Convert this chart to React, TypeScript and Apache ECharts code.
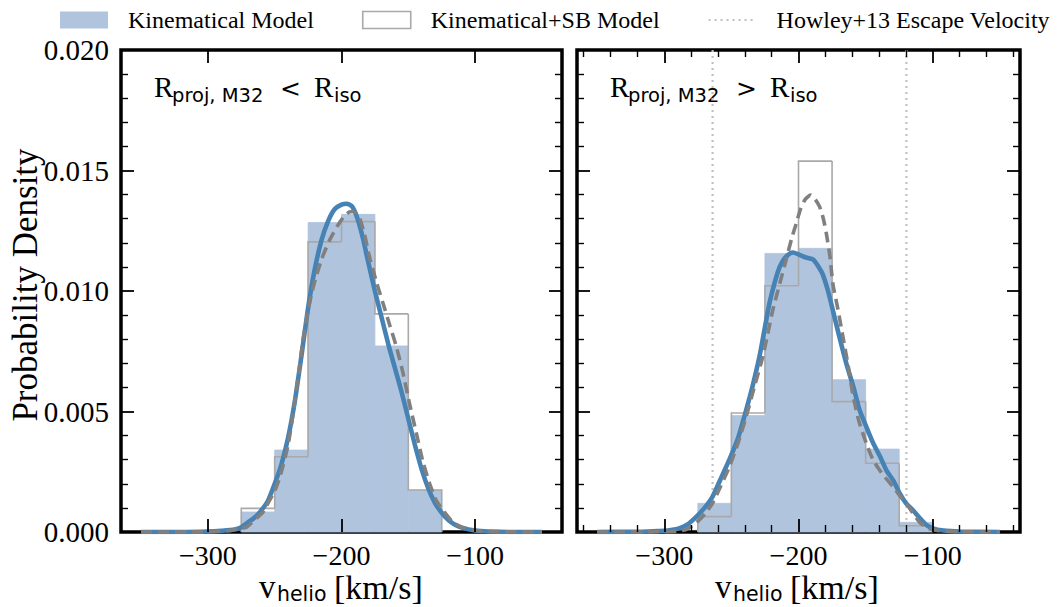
import React, { useEffect, useRef } from "react";
import * as echarts from "echarts";

// ---------- DATA ----------
const xTicks = [-300, -200, -100];
const yTicks = [0, 0.005, 0.01, 0.015, 0.02];

// histogram bin edges and heights (probability density)
const edgesLeft = [-275, -250, -225, -200, -175, -150, -125];
const kinHistLeft = [0.00083, 0.0034, 0.01284, 0.01318, 0.00772, 0.00174];
const sbHistLeft = [0.00098, 0.00312, 0.01204, 0.01288, 0.00905, 0.00174];

const edgesRight = [-275, -250, -225, -200, -175, -150, -125, -100];
const kinHistRight = [0.00119, 0.00483, 0.01156, 0.01177, 0.00632, 0.00344, 0.0004];
const sbHistRight = [0.00064, 0.00494, 0.01022, 0.01539, 0.00541, 0.00285, 0.00026];

// KDE curves (Kinematical model: solid blue; Kinematical+SB: dashed gray)
const kdeKinLeftX = [-350, -320, -300, -290, -280, -275, -270, -265, -260, -255, -250, -245, -240, -235, -230, -225, -220, -215, -210, -205, -200, -196, -192, -188, -184, -180, -175, -170, -165, -160, -155, -150, -145, -140, -135, -130, -125, -120, -115, -110, -100, -90, -70, -50];
const kdeKinLeftY = [0, 0, 0.00002, 0.00005, 0.0001, 0.0002, 0.0004, 0.0006, 0.0009, 0.0013, 0.002, 0.0028, 0.0039, 0.0054, 0.0073, 0.0093, 0.0109, 0.0121, 0.0129, 0.0134, 0.01358, 0.01362, 0.0135, 0.013, 0.0122, 0.0112, 0.01, 0.0089, 0.0078, 0.0068, 0.0058, 0.0047, 0.0036, 0.0026, 0.0018, 0.0012, 0.0008, 0.0005, 0.0003, 0.00018, 0.00006, 0.00002, 0, 0];

const kdeSbLeftX = [-350, -300, -285, -280, -275, -271, -265, -259, -255, -250, -246, -240, -236, -232, -229, -225, -221, -215, -209, -203, -198, -194, -191, -187, -183, -179, -174, -169, -164, -159, -154, -149, -144, -139, -134, -129, -124, -117, -110, -100, -90, -50];
const kdeSbLeftY = [0, 0.00001, 0.00005, 0.0001, 0.00015, 0.0002, 0.0005, 0.0008, 0.0012, 0.0017, 0.0023, 0.0036, 0.005, 0.0066, 0.0079, 0.0092, 0.0102, 0.0113, 0.0121, 0.0127, 0.0131, 0.01328, 0.0133, 0.0131, 0.0124, 0.0114, 0.0104, 0.0095, 0.0086, 0.0077, 0.0066, 0.0053, 0.0041, 0.0029, 0.002, 0.0013, 0.0009, 0.00043, 0.0002, 0.00006, 0.00002, 0];

const kdeKinRightX = [-350, -320, -305, -300, -295, -289, -283, -276, -270, -264, -258, -251.5, -245, -239, -234, -229, -225, -221.6, -218, -214, -210, -206, -204, -200, -195, -189, -185, -182, -178, -174.4, -170, -164.4, -159, -154.5, -149, -144.5, -139, -134.6, -129, -124.6, -120, -114.7, -110, -105, -100, -92, -80, -50];
const kdeKinRightY = [0, 0.00001, 0.00004, 0.00005, 0.00008, 0.00015, 0.0003, 0.00064, 0.001, 0.00147, 0.0022, 0.003, 0.0039, 0.00506, 0.0061, 0.0073, 0.0085, 0.0095, 0.0103, 0.011, 0.01138, 0.01157, 0.0116, 0.01152, 0.0114, 0.0113, 0.011, 0.0107, 0.0100, 0.0092, 0.0082, 0.007, 0.006, 0.00506, 0.0043, 0.0037, 0.0031, 0.00257, 0.0021, 0.0016, 0.0012, 0.0009, 0.0006, 0.0003, 0.00015, 0.00006, 0.00002, 0];

const kdeSbRightX = [-350, -300, -290, -283.8, -278, -273.9, -269, -264, -258, -251.5, -245, -239, -233, -226.6, -223, -219.2, -214, -209.2, -205, -201.7, -198.5, -195, -191, -187.5, -184.3, -181.5, -179.3, -176.5, -174.4, -170.5, -166.9, -163, -159.5, -155, -149.5, -144.5, -139.6, -134.5, -129.6, -124.5, -119.6, -115, -109.7, -103, -95, -80, -50];
const kdeSbRightY = [0, 0.00001, 0.00003, 0.0001, 0.0003, 0.0005, 0.0008, 0.0012, 0.0019, 0.0027, 0.0037, 0.00478, 0.006, 0.00727, 0.0082, 0.0092, 0.0103, 0.0113, 0.0122, 0.0128, 0.0134, 0.0138, 0.01398, 0.0138, 0.0135, 0.013, 0.0124, 0.0114, 0.0103, 0.0092, 0.0081, 0.0069, 0.0057, 0.0046, 0.00368, 0.003, 0.00257, 0.0022, 0.00188, 0.0015, 0.00119, 0.0008, 0.0004, 0.00015, 0.00005, 0.00001, 0];

// Howley+13 escape velocity (right panel only)
const escapeVel = [-264, -119.6];

const legendNames = ["Kinematical Model", "Kinematical+SB Model", "Howley+13 Escape Velocity"];

// ---------- STYLE ----------
const SERIF = "'Liberation Serif', 'Times New Roman', serif";
const SANS = "'DejaVu Sans', sans-serif";
const FILL = "#b0c4de";
const STEP = "#a9a9a9";
const BLUE = "#4682b4";
const GRAY = "#808080";
const DOT = "#c0c0c0";
const TICK = "#000000";

const panels = [
  { left: 121, top: 50, width: 441, height: 482 },
  { left: 577, top: 50, width: 443, height: 482 },
];
const X_MIN = -365;
const X_MAX = -35;
const Y_MIN = 0;
const Y_MAX = 0.02;

const fmtX = (v: number) => (xTicks.includes(Math.round(v)) ? "\u2212" + Math.abs(Math.round(v)) : "");
const fmtY = (v: number) => {
  const t = yTicks.find((y) => Math.abs(y - v) < 1e-9);
  return t === undefined ? "" : t.toFixed(3);
};

function histItems(edges: number[], h: number[]) {
  return h.map((v, i) => [edges[i], edges[i + 1], v, i === 0 ? 0 : h[i - 1], i === h.length - 1 ? 1 : 0]);
}

function pairs(xs: number[], ys: number[]) {
  return xs.map((x, i) => [x, ys[i]]);
}

// main axes (labels only) for data grids 0,1; tick axes for overlay grids 2,3
function xAxisMain(gi: number) {
  return {
    type: "value", gridIndex: gi, position: "bottom", min: X_MIN, max: X_MAX, splitNumber: 3,
    axisLine: { show: false, onZero: false }, splitLine: { show: false },
    axisTick: { show: false }, minorTick: { show: false },
    axisLabel: { show: true, formatter: fmtX, fontFamily: SERIF, fontSize: 28, color: "#000", margin: 9 },
  };
}
function yAxisMain(gi: number, labels: boolean) {
  return {
    type: "value", gridIndex: gi, position: "left", min: Y_MIN, max: Y_MAX, interval: 0.005,
    axisLine: { show: false, onZero: false }, splitLine: { show: false },
    axisTick: { show: false }, minorTick: { show: false },
    axisLabel: { show: labels, formatter: fmtY, fontFamily: SERIF, fontSize: 29, color: "#000", margin: 12 },
  };
}
function xAxisTicks(gi: number, pos: string, minor: boolean) {
  return {
    type: "value", gridIndex: gi, position: pos, min: X_MIN, max: X_MAX, splitNumber: 3, z: 20,
    axisLine: { show: false, onZero: false }, splitLine: { show: false },
    axisTick: { show: true, inside: true, length: 13, lineStyle: { color: TICK, width: 1.8 } },
    minorTick: { show: minor, splitNumber: 5, length: 7, lineStyle: { color: TICK, width: 1.4 } },
    axisLabel: { show: false },
  };
}
function yAxisTicks(gi: number, pos: string) {
  return {
    type: "value", gridIndex: gi, position: pos, min: Y_MIN, max: Y_MAX, interval: 0.005, z: 20,
    axisLine: { show: false, onZero: false }, splitLine: { show: false },
    axisTick: { show: true, inside: true, length: 13, lineStyle: { color: TICK, width: 1.8 } },
    minorTick: { show: true, splitNumber: 5, length: 7, lineStyle: { color: TICK, width: 1.4 } },
    axisLabel: { show: false },
  };
}

function fillSeries(axisIdx: number, edges: number[], h: number[]) {
  return {
    type: "custom",
    name: legendNames[0],
    xAxisIndex: axisIdx,
    yAxisIndex: axisIdx,
    itemStyle: { color: FILL },
    z: 1,
    data: histItems(edges, h),
    renderItem: (params: any, api: any) => {
      const p0 = api.coord([api.value(0), api.value(2)]);
      const p1 = api.coord([api.value(1), 0]);
      return {
        type: "rect",
        shape: { x: p0[0], y: p0[1], width: p1[0] - p0[0], height: p1[1] - p0[1] },
        style: { fill: FILL, stroke: FILL, lineWidth: 0.8 },
      };
    },
  };
}

function stepSeries(axisIdx: number, edges: number[], h: number[]) {
  return {
    type: "custom",
    name: legendNames[1],
    xAxisIndex: axisIdx,
    yAxisIndex: axisIdx,
    itemStyle: { color: "#fff", borderColor: STEP, borderWidth: 1.6 },
    z: 2,
    data: histItems(edges, h),
    renderItem: (params: any, api: any) => {
      const x0 = api.value(0);
      const x1 = api.value(1);
      const v = api.value(2);
      const prev = api.value(3);
      const last = api.value(4);
      const pts = [api.coord([x0, prev]), api.coord([x0, v]), api.coord([x1, v])];
      if (last === 1) pts.push(api.coord([x1, 0]));
      return {
        type: "polyline",
        shape: { points: pts },
        style: { stroke: STEP, lineWidth: 1.6, fill: "none" },
      };
    },
  };
}

function kdeSeries(axisIdx: number, name: string, xs: number[], ys: number[], dashed: boolean) {
  return {
    type: "line",
    name,
    xAxisIndex: axisIdx,
    yAxisIndex: axisIdx,
    data: pairs(xs, ys),
    symbol: "none",
    showSymbol: false,
    smooth: 0.2,
    z: dashed ? 5 : 4,
    lineStyle: dashed
      ? { color: GRAY, width: 3.6, type: [11, 6] }
      : { color: BLUE, width: 4.6, type: "solid" },
  };
}

function escapeSeries(v: number) {
  return {
    type: "line",
    name: legendNames[2],
    xAxisIndex: 1,
    yAxisIndex: 1,
    data: [[v, Y_MIN], [v, Y_MAX]],
    symbol: "none",
    showSymbol: false,
    itemStyle: { color: DOT },
    z: 3,
    lineStyle: { color: DOT, width: 2.2, type: [2, 4] },
  };
}

function textEl(x: number, y: number, text: string, size: number, family: string) {
  return {
    type: "text",
    x,
    y,
    silent: true,
    style: { text, fontSize: size, fontFamily: family, fill: "#000", align: "left", verticalAlign: "middle" },
  };
}

function panelLabel(gi: number, sym: string) {
  const ox = panels[gi].left - panels[0].left;
  return [
    textEl(154 + ox, 87, "R", 29, SERIF),
    textEl(172 + ox, 95, "proj, M32", 19.5, SANS),
    textEl(280 + ox, 88, sym, 25, SANS),
    textEl(314 + ox, 87, "R", 29, SERIF),
    textEl(334 + ox, 95, "iso", 19.5, SANS),
  ];
}

function xName(gi: number) {
  const ox = panels[gi].left - panels[0].left;
  return [
    textEl(259 + ox, 587, "v", 33, SERIF),
    textEl(277 + ox, 594, "helio", 20.5, SANS),
    textEl(334 + ox, 587, "[km/s]", 34, SERIF),
  ];
}

export default function App() {
  const ref = useRef<HTMLDivElement>(null);
  useEffect(() => {
    if (!ref.current) return;
    const chart = echarts.init(ref.current, null, { renderer: "svg" });
    const option: any = {
      animation: false,
      grid: [
        { ...panels[0], show: true, borderColor: "#000", borderWidth: 3.5 },
        { ...panels[1], show: true, borderColor: "#000", borderWidth: 3.5 },
        { ...panels[0], show: false },
        { ...panels[1], show: false },
      ],
      xAxis: [
        xAxisMain(0),
        xAxisMain(1),
        xAxisTicks(2, "bottom", false),
        xAxisTicks(2, "top", false),
        xAxisTicks(3, "bottom", true),
        xAxisTicks(3, "top", true),
      ],
      yAxis: [
        yAxisMain(0, true),
        yAxisMain(1, false),
        yAxisTicks(2, "left"),
        yAxisTicks(2, "right"),
        yAxisTicks(3, "left"),
        yAxisTicks(3, "right"),
      ],
      legend: {
        top: 3,
        left: 55,
        selectedMode: false,
        itemWidth: 48,
        itemHeight: 17,
        itemGap: 48,
        textStyle: { fontFamily: SERIF, fontSize: 24, color: "#000", padding: [0, 0, 0, 15] },
        data: [
          { name: legendNames[0], icon: "rect", itemStyle: { color: FILL, borderWidth: 0 } },
          { name: legendNames[1], icon: "rect", itemStyle: { color: "#fff", borderColor: STEP, borderWidth: 1.6 } },
          { name: legendNames[2], itemStyle: { color: "rgba(0,0,0,0)", borderColor: "rgba(0,0,0,0)", borderWidth: 0, opacity: 0 } },
        ],
      },
      series: [
        fillSeries(0, edgesLeft, kinHistLeft),
        stepSeries(0, edgesLeft, sbHistLeft),
        kdeSeries(0, "KDE Kinematical (inner)", kdeKinLeftX, kdeKinLeftY, false),
        kdeSeries(0, "KDE Kinematical+SB (inner)", kdeSbLeftX, kdeSbLeftY, true),
        fillSeries(1, edgesRight, kinHistRight),
        stepSeries(1, edgesRight, sbHistRight),
        ...escapeVel.map((v) => escapeSeries(v)),
        kdeSeries(1, "KDE Kinematical (outer)", kdeKinRightX, kdeKinRightY, false),
        kdeSeries(1, "KDE Kinematical+SB (outer)", kdeSbRightX, kdeSbRightY, true),
      ],
      graphic: [
        ...panelLabel(0, "<"),
        ...panelLabel(1, ">"),
        ...xName(0),
        ...xName(1),
        {
          type: "text",
          x: 25,
          y: 285,
          rotation: Math.PI / 2,
          silent: true,
          style: { text: "Probability Density", fontSize: 35, fontFamily: SERIF, fill: "#000", align: "center", verticalAlign: "middle" },
        },
      ],
    };
    chart.setOption(option);
    return () => chart.dispose();
  }, []);
  return <div ref={ref} style={{ position: "fixed", left: 0, top: 0, width: 1063, height: 607, background: "#fff" }} />;
}
